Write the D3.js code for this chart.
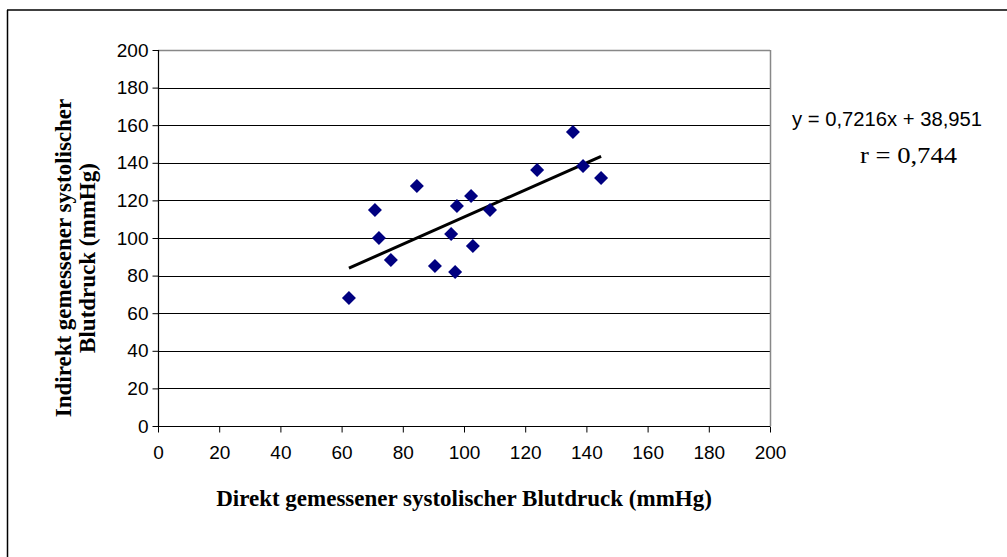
<!DOCTYPE html>
<html><head><meta charset="utf-8">
<script src="https://cdn.jsdelivr.net/npm/d3@7"></script>
<style>body{margin:0;background:#fff}svg{display:block}</style>
</head><body><svg id="c" width="1007" height="557"></svg>
<script>
const xValues = [62.4, 70.9, 72.2, 76.1, 84.6, 90.5, 95.8, 97.1, 97.7, 102.3, 102.9, 108.5, 123.9, 135.6, 138.9, 144.8];
const yValues = [68.1, 114.9, 100.0, 88.3, 127.7, 85.1, 102.1, 81.9, 117.0, 122.3, 95.7, 114.9, 136.2, 156.4, 138.3, 131.9];
const xTicks = [0,20,40,60,80,100,120,140,160,180,200];
const yTicks = [0,20,40,60,80,100,120,140,160,180,200];
const trendSlope = 0.7216;
const trendIntercept = 38.951;
const equationText = "y = 0,7216x + 38,951";
const rText = "r = 0,744";
const xTitle = "Direkt gemessener systolischer Blutdruck (mmHg)";
const yTitleLines = ["Indirekt gemessener systolischer", "Blutdruck (mmHg)"];

const svg = d3.select("#c");
const L=158, R=770, T=50, B=426;
const x = d3.scaleLinear().domain([0,200]).range([L,R]);
const y = d3.scaleLinear().domain([0,200]).range([B,T]);
const SANS = "Liberation Sans, Arial, sans-serif";
const SERIF = "Liberation Serif, Times New Roman, serif";

// outer chart border (top and left visible)
svg.append("line").attr("x1",7).attr("x2",1007).attr("y1",10).attr("y2",10).attr("stroke","#000").attr("stroke-width",1.5);
svg.append("line").attr("x1",7.5).attr("x2",7.5).attr("y1",10).attr("y2",557).attr("stroke","#000").attr("stroke-width",1.5);

// gridlines
svg.append("g").selectAll("line").data(yTicks.filter(d=>d>0)).join("line")
  .attr("x1",L).attr("x2",R).attr("y1",d=>Math.round(y(d))+0.5).attr("y2",d=>Math.round(y(d))+0.5)
  .attr("stroke",d=>d===200?"#888":"#000").attr("stroke-width",d=>d===200?1.5:1);
// right border
svg.append("line").attr("x1",R+0.5).attr("x2",R+0.5).attr("y1",T).attr("y2",B).attr("stroke","#888").attr("stroke-width",1.5);

// axes
const xAxis = d3.axisBottom(x).tickValues(xTicks).tickSize(6).tickPadding(13);
const gx = svg.append("g").attr("transform",`translate(0,${B+0.5})`).call(xAxis);
const yAxis = d3.axisLeft(y).tickValues(yTicks).tickSize(6).tickPadding(4);
const gy = svg.append("g").attr("transform",`translate(${L+0.5},0)`).call(yAxis);
[gx,gy].forEach(g=>{
  g.attr("font-size",null).attr("font-family",null);
  g.select(".domain").attr("stroke","#000").attr("stroke-width",1.2);
  g.selectAll(".tick line").attr("stroke","#000");
  g.selectAll("text").style("font-family",SANS).style("font-size","19px").attr("fill","#000");
});
gx.select(".domain").attr("d",`M${L},0H${R}`);
gy.select(".domain").attr("d",`M0,${B}V${T}`);

// trend line
const xmin = d3.min(xValues), xmax = d3.max(xValues);
svg.append("line")
  .attr("x1",x(xmin)).attr("y1",y(trendSlope*xmin+trendIntercept))
  .attr("x2",x(xmax)).attr("y2",y(trendSlope*xmax+trendIntercept))
  .attr("stroke","#000").attr("stroke-width",3);

// points
const pts = xValues.map((v,i)=>({x:v,y:yValues[i]}));
svg.append("g").selectAll("path").data(pts).join("path")
  .attr("d","M0,-7L7,0L0,7L-7,0Z")
  .attr("transform",d=>`translate(${x(d.x)},${y(d.y)})`)
  .attr("fill","#000080");

// axis titles
svg.append("text").attr("x",(L+R)/2).attr("y",506).attr("text-anchor","middle")
  .style("font-family",SERIF).style("font-weight","bold").style("font-size","23px")
  .text(xTitle);
const yt = svg.append("text").attr("transform",`translate(0,258) rotate(-90)`)
  .attr("text-anchor","middle").style("font-family",SERIF)
  .style("font-weight","bold").style("font-size","23px");
yTitleLines.forEach((t,i)=>yt.append("tspan").attr("x",0).attr("y",i===0?71:95).text(t));

// equation
svg.append("text").attr("x",792).attr("y",126).style("font-family",SANS).style("font-size","19.5px")
  .attr("textLength",190).attr("lengthAdjust","spacingAndGlyphs").text(equationText);
svg.append("text").attr("x",860).attr("y",163).style("font-family",SERIF).style("font-size","24px")
  .attr("textLength",97).attr("lengthAdjust","spacingAndGlyphs").text(rText);
</script></body></html>
